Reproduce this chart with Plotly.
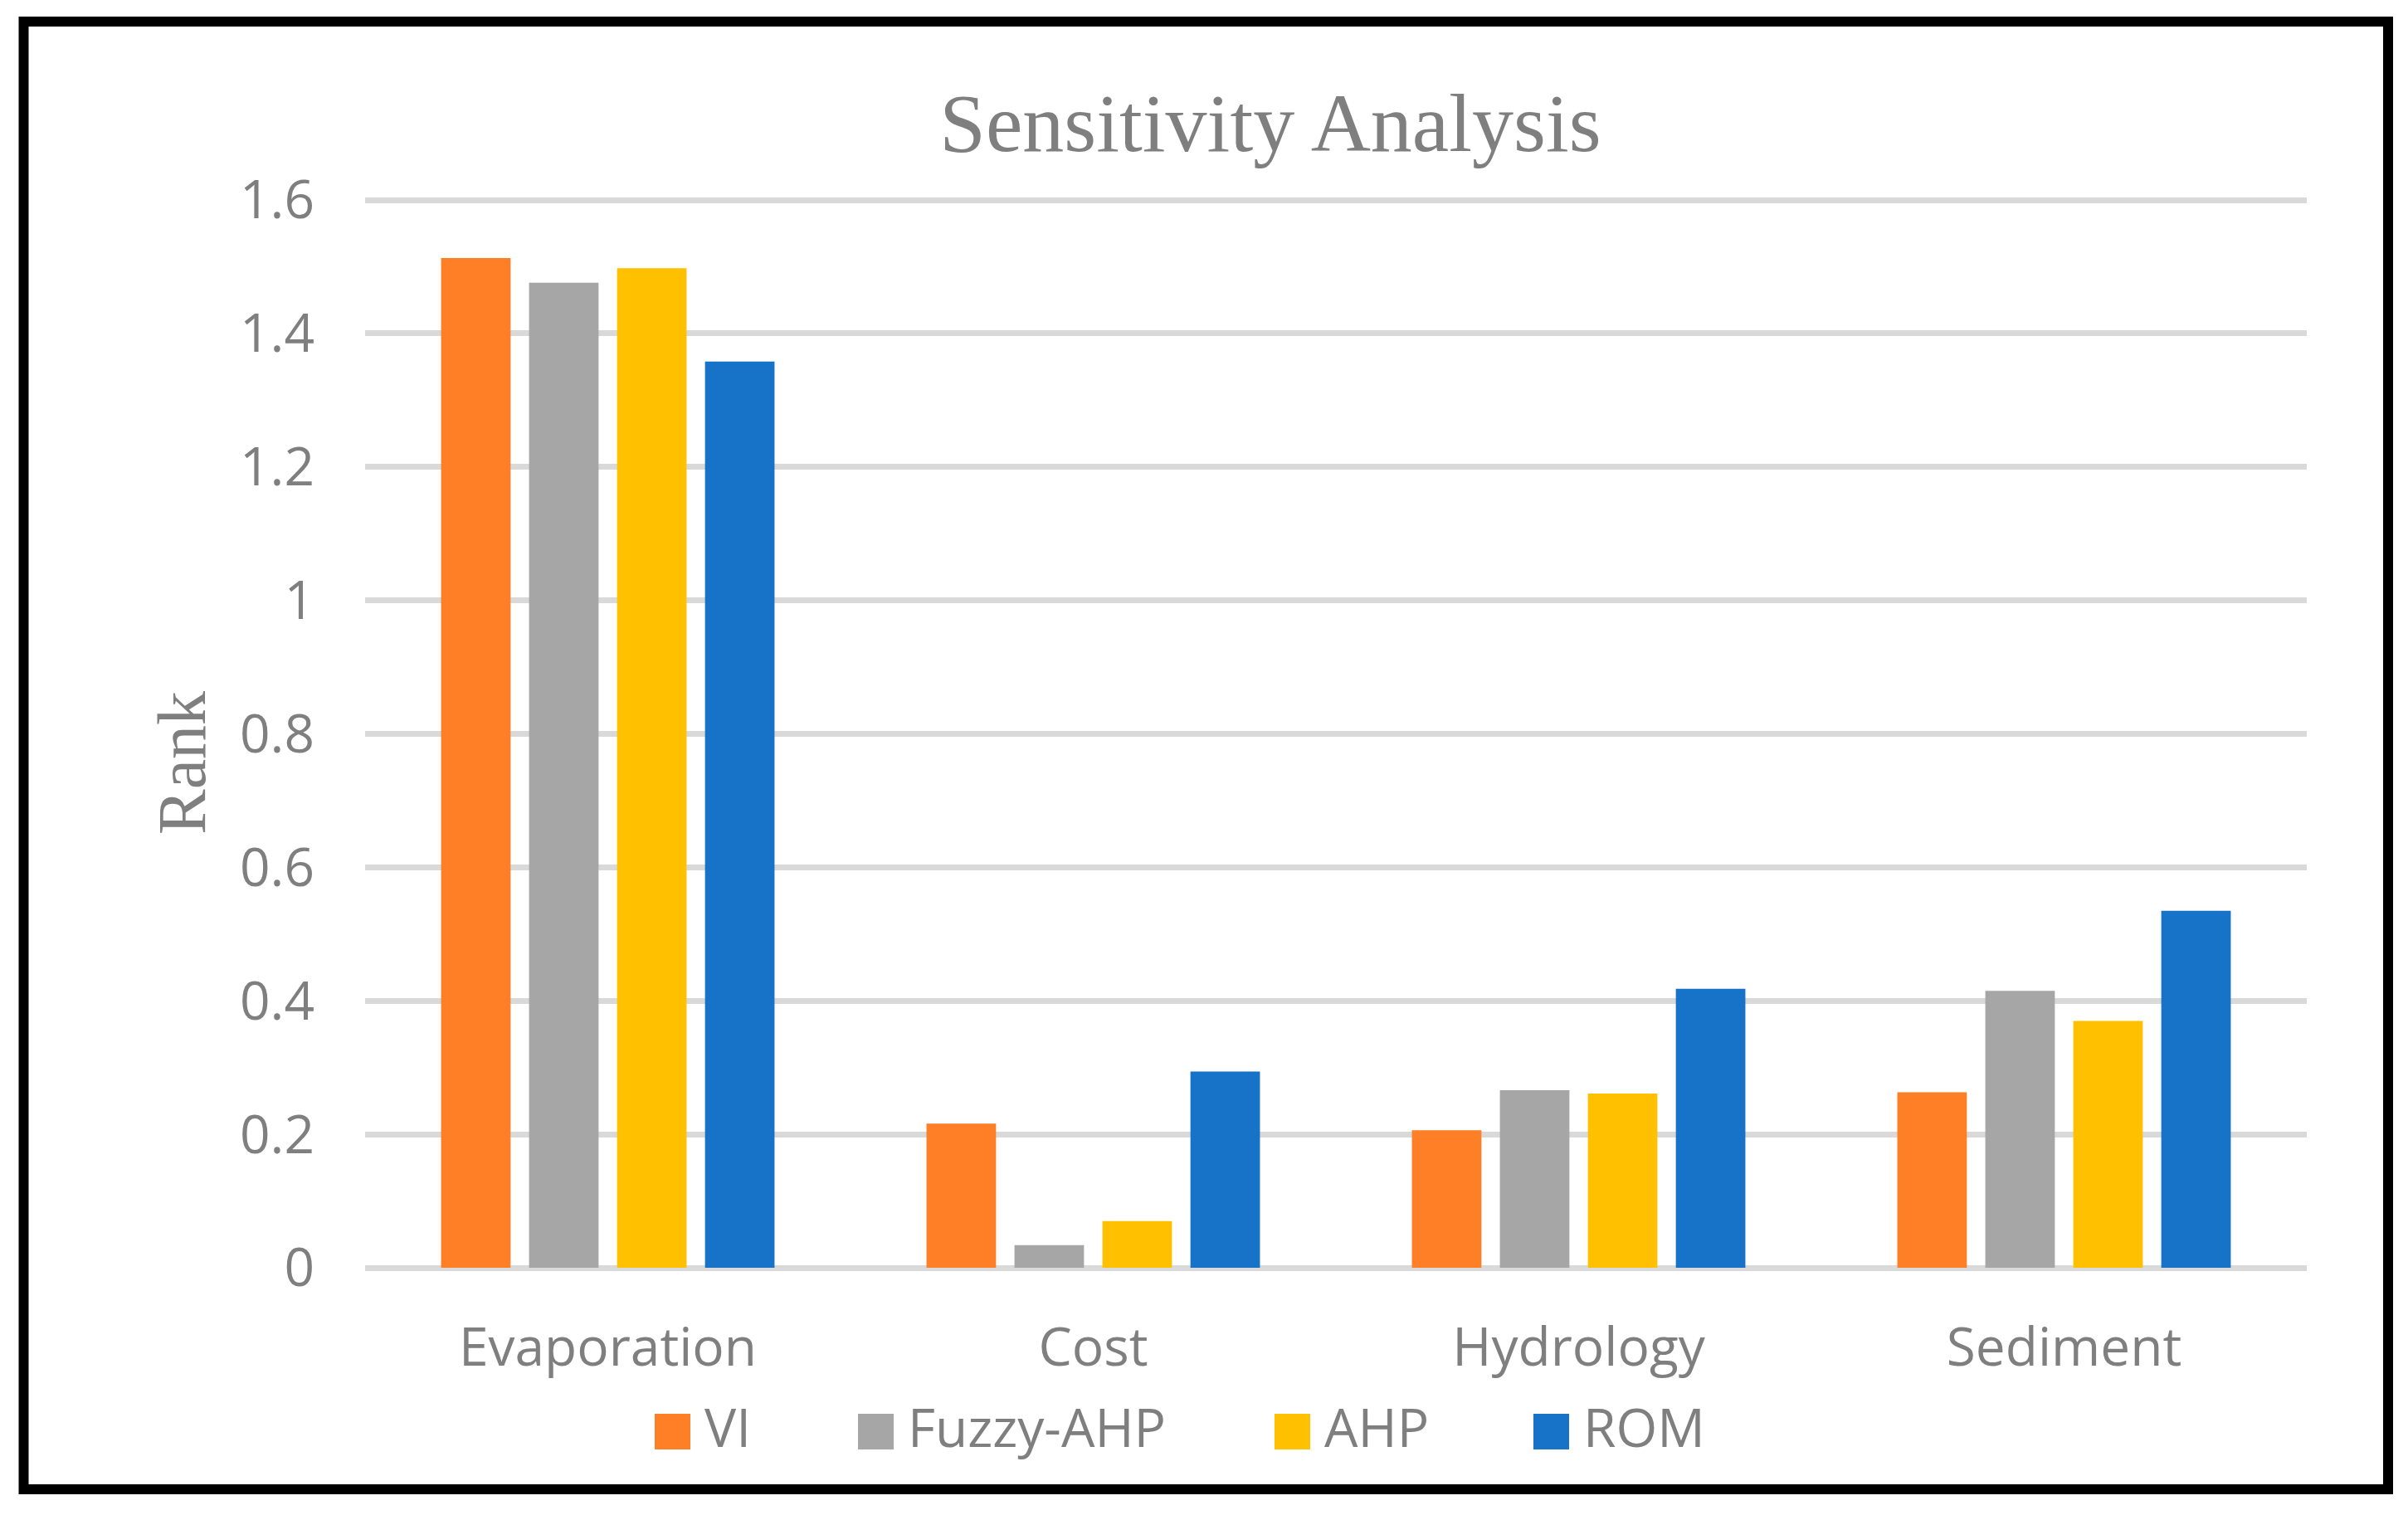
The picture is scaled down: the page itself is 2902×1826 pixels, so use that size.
import plotly.graph_objects as go

categories = ["Evaporation", "Cost", "Hydrology", "Sediment"]
series_names = ["VI", "Fuzzy-AHP", "AHP", "ROM"]
vi_values = [1.513, 0.216, 0.206, 0.263]
fuzzy_ahp_values = [1.476, 0.034, 0.266, 0.415]
ahp_values = [1.498, 0.070, 0.261, 0.370]
rom_values = [1.358, 0.294, 0.418, 0.535]
y_ticks = [0, 0.2, 0.4, 0.6, 0.8, 1.0, 1.2, 1.4, 1.6]
y_tick_labels = ["0", "0.2", "0.4", "0.6", "0.8", "1", "1.2", "1.4", "1.6"]

series_values = [vi_values, fuzzy_ahp_values, ahp_values, rom_values]
colors = ["#FF7F27", "#A6A6A6", "#FFC000", "#1773C8"]

W, H = 2902, 1826
Y_MAX = 1.62
ML, MR, MT, MB = 440, 122, 225, 298
PW, PH = W - ML - MR, H - MT - MB
TEXT = "#7F7F7F"
SANS = "Open Sans"
SERIF = "Liberation Serif"


def px_x(p):
    return (p - ML) / PW


def px_y(p):
    return (H - MB - p) / PH


fig = go.Figure()
for name, vals, col in zip(series_names, series_values, colors):
    fig.add_trace(go.Bar(x=categories, y=vals, name=name, marker_color=col,
                         marker_line_width=0, showlegend=False))

shapes = [dict(type="rect", xref="paper", yref="paper",
               x0=px_x(28.5), x1=px_x(2878), y0=px_y(1795), y1=px_y(26),
               line=dict(color="black", width=12), fillcolor="rgba(0,0,0,0)",
               layer="above")]
annotations = [dict(text="Rank", xref="paper", yref="paper", x=px_x(219), y=px_y(920),
                    textangle=-90, showarrow=False, xanchor="center", yanchor="middle",
                    font=dict(family=SERIF, size=82, color=TEXT))]

legend_x = [789, 1034, 1536, 1848]
sw = 43
for name, col, lx in zip(series_names, colors, legend_x):
    shapes.append(dict(type="rect", xref="paper", yref="paper",
                       x0=px_x(lx), x1=px_x(lx + sw), y0=px_y(1747), y1=px_y(1704),
                       fillcolor=col, line=dict(width=0)))
    annotations.append(dict(text=name, xref="paper", yref="paper",
                            x=px_x(lx + sw + 15), y=px_y(1719), xanchor="left",
                            yanchor="middle", showarrow=False,
                            font=dict(family=SANS, size=64, color=TEXT)))

fig.update_layout(
    width=W, height=H,
    margin=dict(l=ML, r=MR, t=MT, b=MB, pad=0),
    paper_bgcolor="white", plot_bgcolor="white",
    barmode="group", bargap=0.275, bargroupgap=0.21,
    title=dict(text="Sensitivity Analysis", xref="paper", x=px_x(1531), xanchor="center",
               yref="container", y=1 - 147 / H, yanchor="middle",
               font=dict(family=SERIF, size=100, color=TEXT)),
    shapes=shapes, annotations=annotations,
    showlegend=False,
)
fig.update_xaxes(showgrid=False, showline=False, zeroline=False, ticks="",
                 tickfont=dict(family=SANS, size=64, color=TEXT), ticklabelstandoff=53)
fig.update_yaxes(range=[0, Y_MAX], tickvals=y_ticks, ticktext=y_tick_labels,
                 showgrid=True, gridcolor="#D9D9D9", gridwidth=7,
                 zeroline=True, zerolinecolor="#D9D9D9", zerolinewidth=7,
                 showline=False, ticks="",
                 tickfont=dict(family=SANS, size=64, color=TEXT), ticklabelstandoff=60)

fig.write_html("out.html", config={"displayModeBar": False},
               post_script="document.body.style.margin='0';document.body.style.overflow='hidden';")
